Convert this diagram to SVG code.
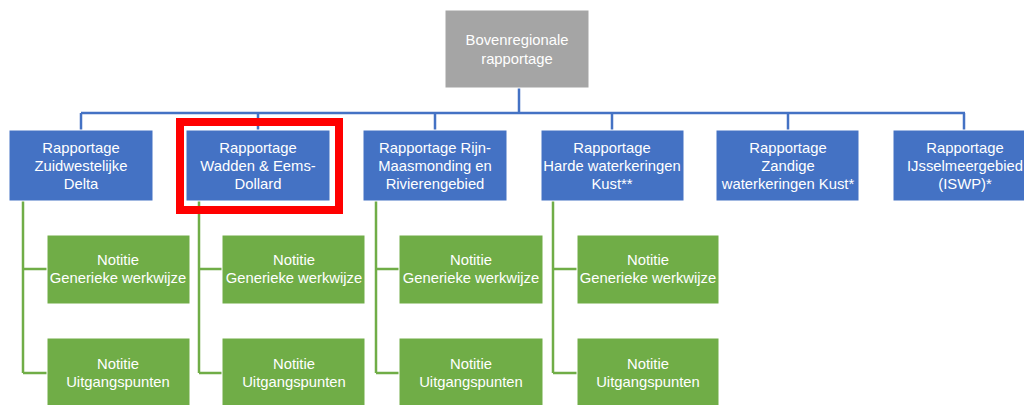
<svg xmlns="http://www.w3.org/2000/svg" width="1024" height="405" viewBox="0 0 1024 405">
<style>
.blue{fill:#4472C4;stroke:#ffffff;stroke-width:1}
.green{fill:#70AD47;stroke:#ffffff;stroke-width:1}
.gray{fill:#A5A5A5;stroke:#ffffff;stroke-width:1}
.t{font-family:"Liberation Sans",Arial,sans-serif;font-size:14.8px;fill:#ffffff;text-anchor:middle}
.cb{stroke:#4472C4;stroke-width:2.5;fill:none}
.cg{stroke:#70AD47;stroke-width:2.5;fill:none}
</style>
<rect width="1024" height="405" fill="#ffffff"/>
<g id="connectors">
<path class="cb" d="M519 88V113M81 113H965M81 113V130M258 113V130M435 113V130M612 113V130M788 113V130M964 113V130"/>
<path class="cg" d="M23 201V373M23 269H47M23 373H47"/>
<path class="cg" d="M199 201V373M199 269H222M199 373H222"/>
<path class="cg" d="M376 201V373M376 269H399M376 373H399"/>
<path class="cg" d="M553 201V373M553 269H577M553 373H577"/>
</g>
<g id="top"><rect class="gray" x="445" y="10" width="144" height="78"/><text class="t" x="517" y="45">Bovenregionale</text><text class="t" x="517" y="64">rapportage</text></g>
<g id="b1"><rect class="blue" x="9" y="130" width="144" height="71"/><text class="t" x="81" y="153">Rapportage</text><text class="t" x="81" y="171">Zuidwestelijke</text><text class="t" x="81" y="189">Delta</text></g>
<g id="b2"><rect class="blue" x="186" y="130" width="144" height="71"/><text class="t" x="258" y="153">Rapportage</text><text class="t" x="258" y="171">Wadden &amp; Eems-</text><text class="t" x="258" y="189">Dollard</text></g>
<g id="highlight"><rect x="180" y="122" width="159" height="88" fill="none" stroke="#FF0000" stroke-width="8"/></g>
<g id="b3"><rect class="blue" x="363" y="130" width="144" height="71"/><text class="t" x="435" y="153">Rapportage Rijn-</text><text class="t" x="435" y="171">Maasmonding en</text><text class="t" x="435" y="189">Rivierengebied</text></g>
<g id="b4"><rect class="blue" x="541" y="130" width="143" height="71"/><text class="t" x="612" y="153">Rapportage</text><text class="t" x="612" y="171">Harde waterkeringen</text><text class="t" x="612" y="189">Kust**</text></g>
<g id="b5"><rect class="blue" x="716" y="130" width="143" height="71"/><text class="t" x="788" y="153">Rapportage</text><text class="t" x="788" y="171">Zandige</text><text class="t" x="788" y="189">waterkeringen Kust*</text></g>
<g id="b6"><rect class="blue" x="893" y="130" width="144" height="71"/><text class="t" x="965" y="153">Rapportage</text><text class="t" x="965" y="171">IJsselmeergebied</text><text class="t" x="965" y="189">(ISWP)*</text></g>
<g id="g1a"><rect class="green" x="47" y="235" width="143" height="69"/><text class="t" x="118" y="265">Notitie</text><text class="t" x="118" y="283">Generieke werkwijze</text></g>
<g id="g1b"><rect class="green" x="47" y="338" width="143" height="69"/><text class="t" x="118" y="369">Notitie</text><text class="t" x="118" y="387">Uitgangspunten</text></g>
<g id="g2a"><rect class="green" x="222" y="235" width="143" height="69"/><text class="t" x="294" y="265">Notitie</text><text class="t" x="294" y="283">Generieke werkwijze</text></g>
<g id="g2b"><rect class="green" x="222" y="338" width="143" height="69"/><text class="t" x="294" y="369">Notitie</text><text class="t" x="294" y="387">Uitgangspunten</text></g>
<g id="g3a"><rect class="green" x="399" y="235" width="144" height="69"/><text class="t" x="471" y="265">Notitie</text><text class="t" x="471" y="283">Generieke werkwijze</text></g>
<g id="g3b"><rect class="green" x="399" y="338" width="144" height="69"/><text class="t" x="471" y="369">Notitie</text><text class="t" x="471" y="387">Uitgangspunten</text></g>
<g id="g4a"><rect class="green" x="577" y="235" width="142" height="69"/><text class="t" x="648" y="265">Notitie</text><text class="t" x="648" y="283">Generieke werkwijze</text></g>
<g id="g4b"><rect class="green" x="577" y="338" width="142" height="69"/><text class="t" x="648" y="369">Notitie</text><text class="t" x="648" y="387">Uitgangspunten</text></g>
</svg>
